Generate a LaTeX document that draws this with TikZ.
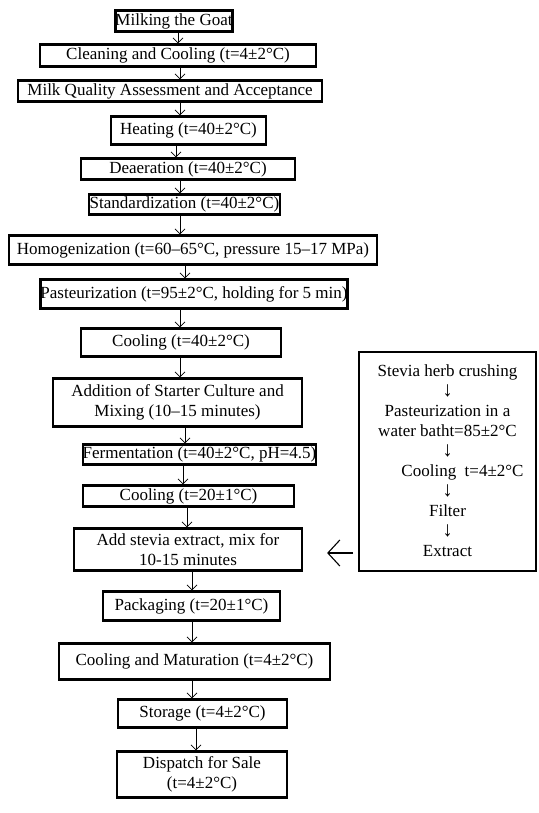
\documentclass[tikz,border=0pt]{standalone}
\usepackage{fontspec}
\setmainfont{Liberation Serif}
\usetikzlibrary{arrows.meta}
\newcommand{\dnarr}{{\fontsize{21}{20}\selectfont ↓}}
\begin{document}
\begin{tikzpicture}[x=1pt,y=-1pt,
  box/.style={draw=black, line width=2.2pt, inner sep=0pt, align=center,
    font=\fontsize{17}{20.5}\selectfont},
  arr/.style={line width=0.8pt, -{Straight Barb[length=5pt,width=10pt,line width=0.8pt]}},
  bigarr/.style={line width=1.1pt, -{Straight Barb[length=12pt,width=26pt,line width=1.1pt]}}]
\useasboundingbox (0,0) rectangle (538,813);
\fill[white] (0,0) rectangle (538,813);
\node[box, minimum width=114, minimum height=21] (milk) at (174,21) {Milking the Goat};
\node[box, minimum width=276, minimum height=22] (clean) at (178,55.5) {Cleaning and Cooling (t=4±2°C)};
\node[box, minimum width=304, minimum height=21] (mqa) at (170,91) {Milk Quality Assessment and Acceptance};
\node[box, minimum width=155, minimum height=28] (heat) at (188.5,130.5) {Heating (t=40±2°C)};
\node[box, minimum width=214, minimum height=21] (deaer) at (188,169) {Deaeration (t=40±2°C)};
\node[box, minimum width=191, minimum height=20] (stand) at (184.5,204.5) {Standardization (t=40±2°C)};
\node[box, minimum width=368, minimum height=29] (homog) at (193,250) {Homogenization (t=60–65°C, pressure 15–17 MPa)};
\node[box, minimum width=296, minimum height=29] (past) at (194,294) {Pasteurization (t=95±2°C, holding for 5 min)};
\node[box, minimum width=200, minimum height=28] (cool1) at (181,342.5) {Cooling (t=40±2°C)};
\node[box, minimum width=249, minimum height=48] (addsc) at (177.5,402.5) {Addition of Starter Culture and\\Mixing (10–15 minutes)};
\node[box, minimum width=233, minimum height=20] (ferm) at (199.5,454.5) {Fermentation (t=40±2°C, pH=4.5)};
\node[box, minimum width=211, minimum height=21] (cool2) at (188.5,496) {Cooling (t=20±1°C)};
\node[box, minimum width=228, minimum height=42] (addst) at (188,549.5) {Add stevia extract, mix for\\10-15 minutes};
\node[box, minimum width=177, minimum height=29] (pack) at (191.5,606) {Packaging (t=20±1°C)};
\node[box, minimum width=271, minimum height=36] (cmat) at (194.5,661.5) {Cooling and Maturation (t=4±2°C)};
\node[box, minimum width=169, minimum height=28] (stor) at (202.5,713.5) {Storage (t=4±2°C)};
\node[box, minimum width=170, minimum height=46] (disp) at (202,774.5) {Dispatch for Sale\\(t=4±2°C)};
\node[box, line width=2pt, minimum width=177, minimum height=219,
  font=\fontsize{17}{20}\selectfont] (stevia) at (447.5,461) {Stevia herb crushing\\\dnarr\\Pasteurization in a\\water batht=85±2°C\\\dnarr\\\hspace*{30pt}Cooling\enspace t=4±2°C\\\dnarr\\Filter\\\dnarr\\Extract};
% arrow columns
\coordinate (x1) at (178,0);
\coordinate (x2) at (180,0);
\coordinate (x3) at (176,0);
\coordinate (x4) at (185,0);
\coordinate (x5) at (183,0);
\coordinate (x6) at (187,0);
\coordinate (x7) at (192,0);
\coordinate (x8) at (196,0);
\draw[arr] (milk.south -| x1) -- (clean.north -| x1);
\draw[arr] (clean.south -| x2) -- (mqa.north -| x2);
\draw[arr] (mqa.south -| x2) -- (heat.north -| x2);
\draw[arr] (heat.south -| x3) -- (deaer.north -| x3);
\draw[arr] (deaer.south -| x2) -- (stand.north -| x2);
\draw[arr] (stand.south -| x2) -- (homog.north -| x2);
\draw[arr] (homog.south -| x4) -- (past.north -| x4);
\draw[arr] (past.south -| x2) -- (cool1.north -| x2);
\draw[arr] (cool1.south -| x2) -- (addsc.north -| x2);
\draw[arr] (addsc.south -| x4) -- (ferm.north -| x4);
\draw[arr] (ferm.south -| x5) -- (cool2.north -| x5);
\draw[arr] (cool2.south -| x6) -- (addst.north -| x6);
\draw[arr] (addst.south -| x7) -- (pack.north -| x7);
\draw[arr] (pack.south -| x7) -- (cmat.north -| x7);
\draw[arr] (cmat.south -| x7) -- (stor.north -| x7);
\draw[arr] (stor.south -| x8) -- (disp.north -| x8);
\coordinate (ay) at (0,553);
\draw[bigarr, shorten <=5pt, shorten >=24pt] (stevia.west |- ay) -- (addst.east |- ay);
\end{tikzpicture}
\end{document}
